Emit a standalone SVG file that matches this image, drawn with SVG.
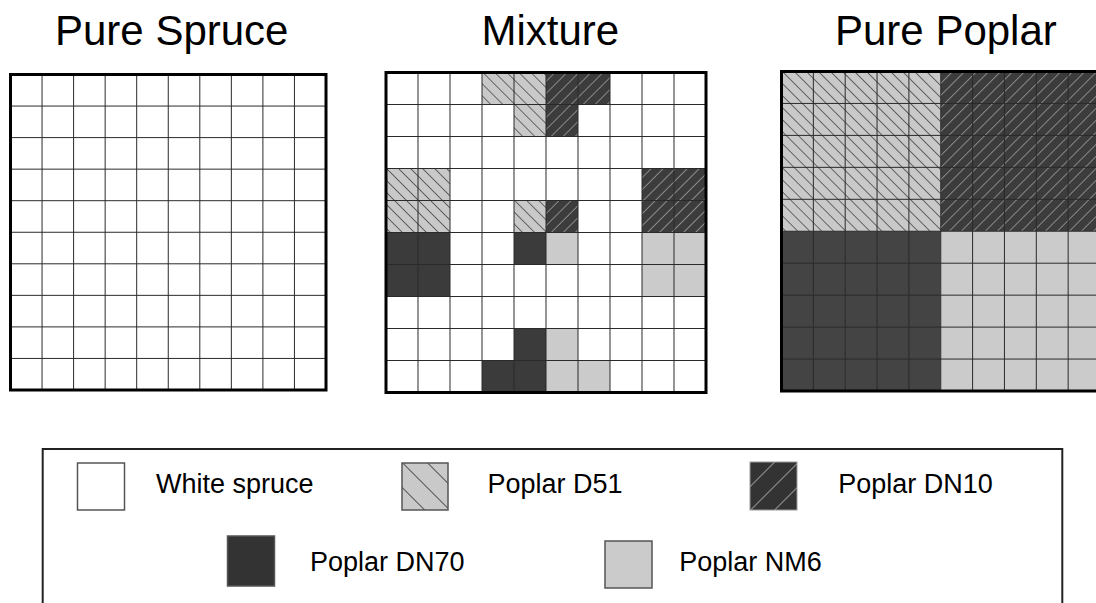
<svg xmlns="http://www.w3.org/2000/svg" width="1096" height="603" viewBox="0 0 1096 603">
<style>
.title{font-family:"Liberation Sans",Arial,sans-serif;font-size:42px;fill:#000}
.lbl{font-family:"Liberation Sans",Arial,sans-serif;font-size:27px;fill:#000}
.grid{fill:none;stroke:#2a2a2a;stroke-width:1}
.border{fill:none;stroke:#000;stroke-width:3}
.d51{fill:url(#hatchD51)}
.dn10{fill:url(#hatchDN10)}
.dn70{fill:#3b3b3b}
.nm6{fill:#cbcbcb}
.sw{stroke:#555;stroke-width:1.5}
</style>
<defs>
<pattern id="hatchD51" patternUnits="userSpaceOnUse" width="8.5" height="20" patternTransform="translate(386,72.5) rotate(-45)">
<rect x="-1" y="-1" width="12" height="22" fill="#c9c9c9"/>
<line x1="0" y1="-1" x2="0" y2="21" stroke="#111" stroke-width="1.1"/>
</pattern>
<pattern id="hatchDN10" patternUnits="userSpaceOnUse" width="8.5" height="20" patternTransform="translate(386,72.5) rotate(45)">
<rect x="-1" y="-1" width="12" height="22" fill="#3c3c3c"/>
<line x1="0" y1="-1" x2="0" y2="21" stroke="#d8d8d8" stroke-width="1"/>
</pattern>
<pattern id="legD51" patternUnits="userSpaceOnUse" width="17.68" height="20" patternTransform="translate(402,463) rotate(-45)">
<rect x="-1" y="-1" width="20" height="22" fill="#c9c9c9"/>
<line x1="0" y1="-1" x2="0" y2="21" stroke="#111" stroke-width="1.3"/>
</pattern>
<pattern id="legDN10" patternUnits="userSpaceOnUse" width="16.97" height="20" patternTransform="translate(750,510) rotate(45)">
<rect x="-1" y="-1" width="20" height="22" fill="#333"/>
<line x1="0" y1="-1" x2="0" y2="21" stroke="#ddd" stroke-width="1.2"/>
</pattern>
</defs>
<rect width="1096" height="603" fill="#fff"/>

<g id="titles">
<text class="title" x="55" y="45">Pure Spruce</text>
<text class="title" x="481.5" y="45">Mixture</text>
<text class="title" x="835" y="45">Pure Poplar</text>
</g>

<g id="pure-spruce">
<rect x="10.5" y="74.5" width="315.5" height="315.5" fill="#fff"/>
<path class="grid" d="M42.05 74.5V390M73.6 74.5V390M105.15 74.5V390M136.7 74.5V390M168.25 74.5V390M199.8 74.5V390M231.35 74.5V390M262.9 74.5V390M294.45 74.5V390
M10.5 106.05H326M10.5 137.6H326M10.5 169.15H326M10.5 200.7H326M10.5 232.25H326M10.5 263.8H326M10.5 295.35H326M10.5 326.9H326M10.5 358.45H326"/>
<rect class="border" x="10.5" y="74.5" width="315.5" height="315.5"/>
</g>

<g id="mixture">
<rect x="386" y="72.5" width="320" height="320" fill="#fff"/>
<g id="mix-d51" class="d51">
<rect x="482" y="72.5" width="64" height="32"/>
<rect x="514" y="104.5" width="32" height="32"/>
<rect x="386" y="168.5" width="64" height="64"/>
<rect x="514" y="200.5" width="32" height="32"/>
</g>
<g id="mix-dn10" class="dn10">
<rect x="546" y="72.5" width="64" height="32"/>
<rect x="546" y="104.5" width="32" height="32"/>
<rect x="642" y="168.5" width="64" height="64"/>
<rect x="546" y="200.5" width="32" height="32"/>
</g>
<g id="mix-dn70" class="dn70">
<rect x="386" y="232.5" width="64" height="64"/>
<rect x="514" y="232.5" width="32" height="32"/>
<rect x="514" y="328.5" width="32" height="32"/>
<rect x="482" y="360.5" width="64" height="32"/>
</g>
<g id="mix-nm6" class="nm6">
<rect x="546" y="232.5" width="32" height="32"/>
<rect x="642" y="232.5" width="64" height="64"/>
<rect x="546" y="328.5" width="32" height="64"/>
<rect x="578" y="360.5" width="32" height="32"/>
</g>
<path class="grid" d="M418 72.5V392.5M450 72.5V392.5M482 72.5V392.5M514 72.5V392.5M546 72.5V392.5M578 72.5V392.5M610 72.5V392.5M642 72.5V392.5M674 72.5V392.5
M386 104.5H706M386 136.5H706M386 168.5H706M386 200.5H706M386 232.5H706M386 264.5H706M386 296.5H706M386 328.5H706M386 360.5H706"/>
<rect class="border" x="386" y="72.5" width="320" height="320"/>
</g>

<g id="pure-poplar">
<rect class="d51" x="781.5" y="71.5" width="159.25" height="159.75"/>
<rect class="dn10" x="940.75" y="71.5" width="159.25" height="159.75"/>
<rect class="dn70" x="781.5" y="231.25" width="159.25" height="159.75" style="fill:#444"/>
<rect class="nm6" x="940.75" y="231.25" width="159.25" height="159.75"/>
<path class="grid" d="M813.35 71.5V391M845.2 71.5V391M877.05 71.5V391M908.9 71.5V391M940.75 71.5V391M972.6 71.5V391M1004.45 71.5V391M1036.3 71.5V391M1068.15 71.5V391
M781.5 103.45H1100M781.5 135.4H1100M781.5 167.35H1100M781.5 199.3H1100M781.5 231.25H1100M781.5 263.2H1100M781.5 295.15H1100M781.5 327.1H1100M781.5 359.05H1100"/>
<rect class="border" x="781.5" y="71.5" width="318.5" height="319.5"/>
</g>

<g id="legend">
<rect x="42.7" y="449" width="1019.6" height="170" fill="none" stroke="#222" stroke-width="2"/>
<g id="leg-white-spruce">
<rect class="sw" x="77.5" y="463" width="47" height="47" fill="#fff"/>
<text class="lbl" x="156" y="492.5">White spruce</text>
</g>
<g id="leg-d51">
<rect class="sw" x="402" y="463" width="46" height="47" fill="url(#legD51)"/>
<text class="lbl" x="487.5" y="492.5">Poplar D51</text>
</g>
<g id="leg-dn10">
<rect x="750" y="462" width="47" height="48" fill="url(#legDN10)" stroke="#999" stroke-width="1"/>
<text class="lbl" x="838.3" y="492.5">Poplar DN10</text>
</g>
<g id="leg-dn70">
<rect class="sw" x="227.5" y="536" width="47" height="50" fill="#333"/>
<text class="lbl" x="310" y="570.5">Poplar DN70</text>
</g>
<g id="leg-nm6">
<rect class="sw" x="605" y="541" width="47" height="47" fill="#cbcbcb"/>
<text class="lbl" x="679.3" y="571">Poplar NM6</text>
</g>
</g>
</svg>
